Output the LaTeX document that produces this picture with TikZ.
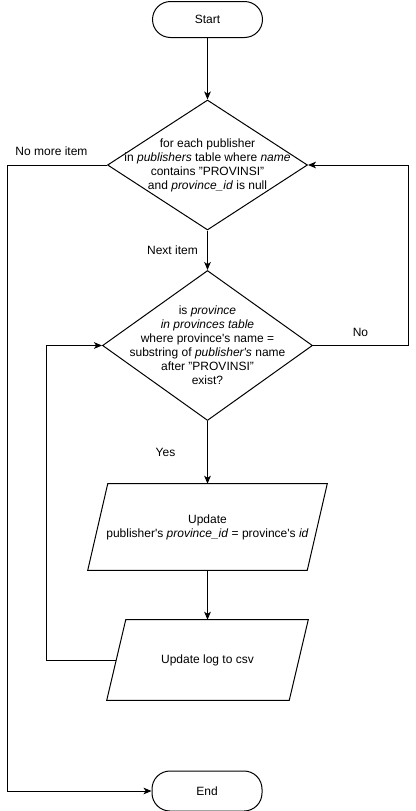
\documentclass[tikz,border=0pt]{standalone}
\usepackage{fontspec}
\setmainfont{Liberation Sans}
\usetikzlibrary{shapes.geometric,arrows.meta}
\newcommand\ap{\textquotesingle}
\begin{document}
\begin{tikzpicture}[x=0.75pt,y=-0.75pt,
  every node/.style={font=\fontsize{9pt}{10.5pt}\selectfont, text=black},
  line/.style={draw=black, line width=0.75pt},
  arr/.style={line, -{Stealth[length=6pt,width=5pt,inset=1.6pt]}},
  term/.style={draw, line width=0.75pt, rectangle, rounded corners=13.5pt, minimum width=110*0.75pt, inner sep=0pt},
  decision/.style={draw, line width=0.75pt, diamond, inner sep=0pt},
  io/.style={rectangle, inner sep=0pt, align=center},
  lbl/.style={inner sep=0pt}
]
\useasboundingbox (0,0) rectangle (416,811);
\node[term, minimum height=36*0.75pt] (start) at (207.5,19.5) {Start};
\node[decision, minimum width=200*0.75pt, minimum height=130*0.75pt,
  label={[align=center]center:{for each publisher\\in \textit{publishers} table where \textit{name}\\contains "PROVINSI"\\and \textit{province\_id} is null}}] (d1) at (207.5,165) {};
\node[decision, minimum width=210*0.75pt, minimum height=150*0.75pt,
  label={[align=center]center:{is \textit{province}\\\textit{in provinces table}\\where province\ap s name =\\substring of \textit{publisher\ap s} name\\after "PROVINSI"\\exist?}}] (d2) at (207.5,345.5) {};
\node[io, minimum width=219*0.75pt, minimum height=86*0.75pt] (p1) at (207.5,527) {Update\\publisher\ap s \textit{province\_id} = province\ap s \textit{id}};
\draw[line] ([xshift=10*0.75pt]p1.north west) -- ([xshift=10*0.75pt]p1.north east)
  -- ([xshift=-10*0.75pt]p1.south east) -- ([xshift=-10*0.75pt]p1.south west) -- cycle;
\node[io, minimum width=182*0.75pt, minimum height=80*0.75pt] (p2) at (207.5,660) {Update log to csv};
\draw[line] ([xshift=9.5*0.75pt]p2.north west) -- ([xshift=9.5*0.75pt]p2.north east)
  -- ([xshift=-9.5*0.75pt]p2.south east) -- ([xshift=-9.5*0.75pt]p2.south west) -- cycle;
\node[term, minimum height=40*0.75pt] (end) at (207,791) {End};

\draw[arr] (start) -- (d1);
\draw[arr] (d1) -- node[lbl, midway, xshift=-35*0.75pt] {Next item} (d2);
\draw[arr] (d2) -- node[lbl, midway, xshift=-42*0.75pt] {Yes} (p1);
\draw[arr] (p1) -- (p2);
\draw[arr] (p2.west) -- ++(-69.5,0) |- (d2.west);
\draw[arr] (d1.west) -- node[lbl, pos=0.555, yshift=13.5*0.75pt] {No more item} ++(-100,0) |- (end.west);
\draw[arr] (d2.east) -- node[lbl, midway, yshift=13.5*0.75pt] {No} ++(95,0) |- (d1.east);
\end{tikzpicture}
\end{document}
